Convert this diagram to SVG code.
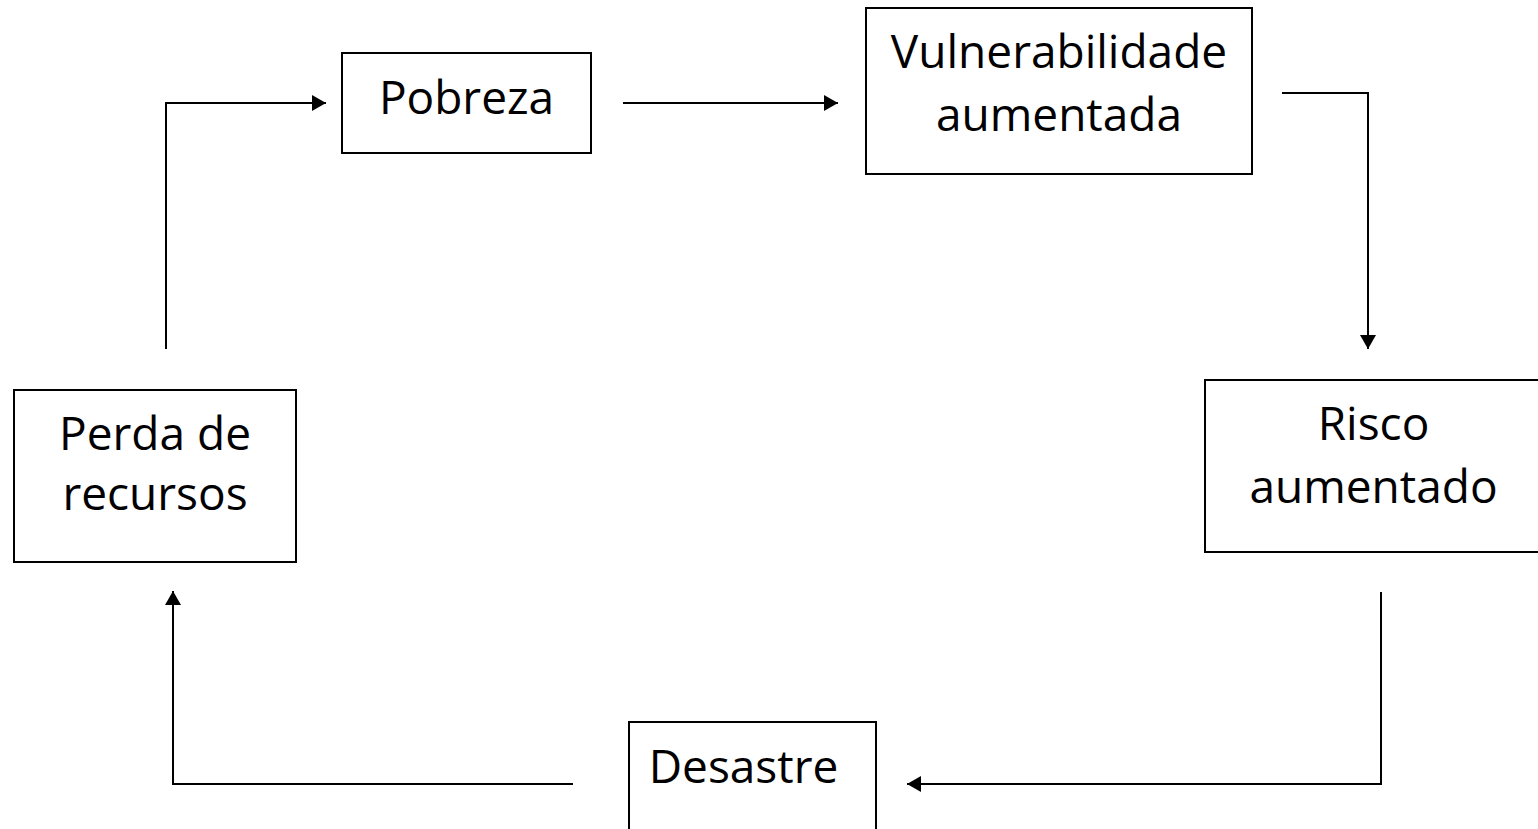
<svg xmlns="http://www.w3.org/2000/svg" width="1538" height="829" viewBox="0 0 1538 829">
<style>
.box{fill:#fff;stroke:#000;stroke-width:2}
.lbl{font-family:"Open Sans","Noto Sans",sans-serif;font-size:46px;fill:#000;text-anchor:middle}
.conn{fill:none;stroke:#000;stroke-width:2}
</style>
<defs>
<marker id="arr" markerUnits="userSpaceOnUse" markerWidth="16" markerHeight="18" refX="14" refY="8" orient="auto">
<path d="M0,0 L14,8 L0,16 Z" fill="#000"/>
</marker>
</defs>
<rect width="1538" height="829" fill="#fff"/>
<g id="pobreza">
<rect class="box" x="342" y="53" width="249" height="100"/>
<text class="lbl" x="466.5" y="114">Pobreza</text>
</g>
<g id="vulnerabilidade">
<rect class="box" x="866" y="8" width="386" height="166"/>
<text class="lbl" x="1059" y="68">Vulnerabilidade</text>
<text class="lbl" x="1059" y="131">aumentada</text>
</g>
<g id="risco">
<rect class="box" x="1205" y="380" width="340" height="172"/>
<text class="lbl" x="1373.5" y="440">Risco</text>
<text class="lbl" x="1373.5" y="503">aumentado</text>
</g>
<g id="desastre">
<rect class="box" x="629" y="722" width="247" height="120"/>
<text class="lbl" x="743.5" y="783">Desastre</text>
</g>
<g id="perda">
<rect class="box" x="14" y="390" width="282" height="172"/>
<text class="lbl" x="155" y="450">Perda de</text>
<text class="lbl" x="155" y="510">recursos</text>
</g>
<g id="connectors">
<path class="conn" d="M166,349 V103 H326" marker-end="url(#arr)"/>
<path class="conn" d="M623,103 H838" marker-end="url(#arr)"/>
<path class="conn" d="M1282,93 H1368 V349" marker-end="url(#arr)"/>
<path class="conn" d="M1381,592 V784 H907" marker-end="url(#arr)"/>
<path class="conn" d="M573,784 H173 V591" marker-end="url(#arr)"/>
</g>
</svg>
